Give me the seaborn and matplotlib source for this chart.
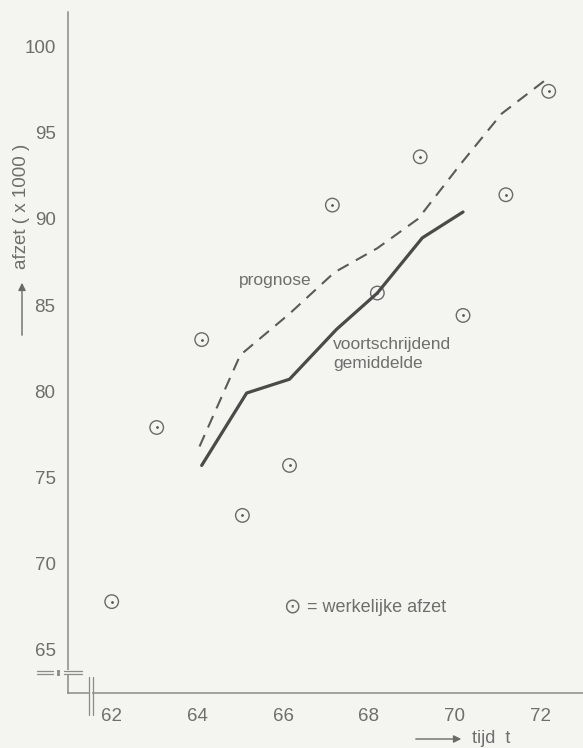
import matplotlib
matplotlib.use("Agg")
import matplotlib.pyplot as plt
from matplotlib.lines import Line2D
from matplotlib.patches import Rectangle
import seaborn as sns

# werkelijke afzet (x 1000)
jaar = [62.0, 63.05, 64.1, 65.05, 66.15, 67.15, 68.2, 69.2, 70.2, 71.2, 72.2]
afzet = [67.8, 77.9, 83.0, 72.8, 75.7, 90.8, 85.7, 93.6, 84.4, 91.4, 97.4]

# voortschrijdend gemiddelde
gem_jaar = [64.1, 65.15, 66.15, 67.25, 68.2, 69.25, 70.2]
gem = [75.7, 79.9, 80.7, 83.6, 85.7, 88.9, 90.4]

# prognose
prog_jaar = [64.05, 65.0, 66.15, 67.2, 68.2, 69.15, 70.15, 71.1, 72.2]
prog = [76.8, 82.1, 84.5, 86.9, 88.3, 90.0, 93.2, 96.1, 98.2]

x_ticks = [62, 64, 66, 68, 70, 72]
y_ticks = [65, 70, 75, 80, 85, 90, 95, 100]

W, H = 583, 748
BG = "#f4f4f0"
TXT = "#6e6e6e"
AXC = "#8a8a8a"
LINE = "#4a4a4a"

sns.set_theme(style="white")
plt.rcParams["font.family"] = ["Liberation Sans", "DejaVu Sans"]


def px(x, y):
    # pixel position (top-left origin) -> figure fraction
    return x / W, 1 - y / H


fig = plt.figure(figsize=(W / 100, H / 100), dpi=100, facecolor=BG)
ax = fig.add_axes([68 / W, 1 - 693 / H, 1 - 68 / W, (693 - 12) / H])
ax.set_facecolor(BG)

sns.lineplot(x=prog_jaar, y=prog, ax=ax, color="#5a5a5a", linewidth=1.5,
             linestyle=(0, (6, 4)), sort=False, estimator=None)
sns.lineplot(x=gem_jaar, y=gem, ax=ax, color=LINE, linewidth=2.3,
             sort=False, estimator=None)
sns.scatterplot(x=jaar, y=afzet, ax=ax, s=95, color="#6a6a6a",
                facecolor="none", edgecolor="#6a6a6a", linewidth=1.0)
sns.scatterplot(x=jaar, y=afzet, ax=ax, s=4, color="#555555", linewidth=0)

ax.set_xlim(60.98, 73.0)
ax.set_ylim(62.5, 102.0)
ax.set_xticks(x_ticks, labels=[str(t) for t in x_ticks])
ax.set_yticks(y_ticks, labels=[str(t) for t in y_ticks])
ax.tick_params(axis="both", direction="out", color=AXC, labelcolor=TXT,
               labelsize=13.5, width=1)
ax.tick_params(axis="y", length=7, pad=2)
ax.tick_params(axis="x", length=6, pad=5)
for side in ["top", "right"]:
    ax.spines[side].set_visible(False)
for side in ["left", "bottom"]:
    ax.spines[side].set_color(AXC)
    ax.spines[side].set_linewidth(1.1)

ax.text(64.97, 86.4, "prognose", fontsize=12.5, color=TXT, ha="left", va="center")
ax.text(67.17, 82.15, "voortschrijdend\ngemiddelde", fontsize=12.5, color=TXT,
        ha="left", va="center", linespacing=1.3)
ax.text(65.99, 67.44, "\u2299", fontsize=15, color=TXT, ha="left", va="center",
        family="DejaVu Sans")
ax.text(66.45, 67.44, " = werkelijke afzet", fontsize=13, color=TXT,
        ha="left", va="center")

# axis titles with arrows
fig.text(*px(22, 206), "afzet ( x 1000 )", rotation=90, ha="center", va="center",
         fontsize=13.5, color=TXT)
ax.annotate("", xy=px(22, 280), xytext=px(22, 338), xycoords="figure fraction",
            textcoords="figure fraction",
            arrowprops=dict(arrowstyle="-|>", color="#6a6a6a", lw=1, mutation_scale=11))
ax.annotate("", xy=px(464, 739), xytext=px(413, 739), xycoords="figure fraction",
            textcoords="figure fraction",
            arrowprops=dict(arrowstyle="-|>", color="#6a6a6a", lw=1, mutation_scale=11))
fig.text(*px(472, 743), "tijd  t", ha="left", va="baseline", fontsize=13, color=TXT)

# axis break marks
x0, y0 = px(64, 675)
fig.add_artist(Rectangle((x0, y0), 8 / W, 5 / H, transform=fig.transFigure,
                         facecolor=BG, edgecolor="none", zorder=5))
x0, y0 = px(89.5, 697)
fig.add_artist(Rectangle((x0, y0), 2.5 / W, 7 / H, transform=fig.transFigure,
                         facecolor=BG, edgecolor="none", zorder=5))
for yy in [670.5, 674]:
    for xa, xb in [(37, 53), (64, 82)]:
        (fa, fy), (fb, _) = px(xa, yy), px(xb, yy)
        fig.add_artist(Line2D([fa, fb], [fy, fy], transform=fig.transFigure,
                              color=AXC, lw=0.9, zorder=6))
    fig.add_artist(Line2D([px(58, yy)[0]], [px(58, yy)[1]], transform=fig.transFigure,
                          marker="s", ms=1.2, color=AXC, lw=0, zorder=6))
for xx in [88.5, 93]:
    (fx, fa), (_, fb) = px(xx, 677), px(xx, 715)
    fig.add_artist(Line2D([fx, fx], [fa, fb], transform=fig.transFigure,
                          color=AXC, lw=0.9, zorder=6))

fig.savefig("out.png", dpi=100, facecolor=BG)
